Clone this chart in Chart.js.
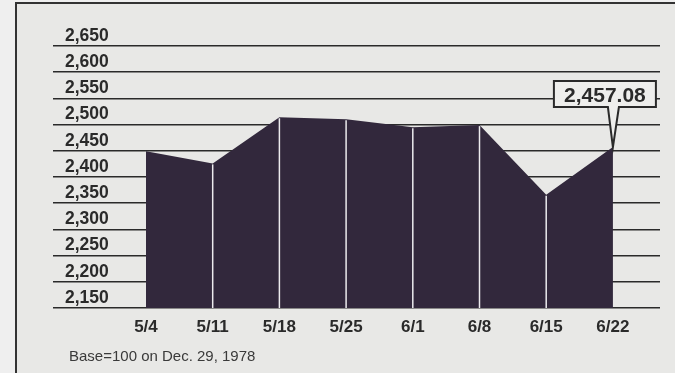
<!DOCTYPE html>
<html>
<head>
<meta charset="utf-8">
<script src="https://cdn.jsdelivr.net/npm/chart.js@4.4.1/dist/chart.umd.min.js"></script>
<style>
  html, body { margin: 0; padding: 0; background: #efefef; }
  #wrap { width: 675px; height: 373px; }
</style>
</head>
<body>
<div id="wrap"><canvas id="chart" width="675" height="373"></canvas></div>
<script>
// Weekly closing values
const weeks = ["5/4", "5/11", "5/18", "5/25", "6/1", "6/8", "6/15", "6/22"];
const closes = [2449, 2426, 2514, 2510, 2495, 2499, 2366, 2457.08];
const yTicks = [2150, 2200, 2250, 2300, 2350, 2400, 2450, 2500, 2550, 2600, 2650];
const footnote = "Base=100 on Dec. 29, 1978";

const FONT = "'Liberation Sans', Arial, sans-serif";
const INK = "#2a2a2a";
const AREA = "#32283c";

// Panel background and the left/top frame rule
const framePlugin = {
    id: "frame",
    beforeDraw(chart) {
        const ctx = chart.ctx;
        ctx.save();
        ctx.fillStyle = "#efefef";
        ctx.fillRect(0, 0, chart.width, chart.height);
        ctx.fillStyle = "#e8e8e6";
        ctx.fillRect(16, 3, chart.width - 16, chart.height - 3);
        ctx.strokeStyle = "#333";
        ctx.lineWidth = 2;
        ctx.beginPath();
        ctx.moveTo(16, chart.height);
        ctx.lineTo(16, 3);
        ctx.lineTo(chart.width, 3);
        ctx.stroke();
        ctx.restore();
    }
};

// Thin white rules dropping from each weekly point
const dividerPlugin = {
    id: "dividers",
    afterDatasetsDraw(chart) {
        const ctx = chart.ctx;
        const x = chart.scales.x, y = chart.scales.y;
        ctx.save();
        ctx.strokeStyle = "#ecebee";
        ctx.lineWidth = 1.5;
        for (let i = 1; i < closes.length - 1; i++) {
            const px = x.getPixelForValue(i);
            ctx.beginPath();
            ctx.moveTo(px, y.getPixelForValue(closes[i]) + 1);
            ctx.lineTo(px, chart.chartArea.bottom);
            ctx.stroke();
        }
        ctx.restore();
    }
};

// Callout with the latest value, plus the footnote
const calloutPlugin = {
    id: "callout",
    afterDraw(chart) {
        const ctx = chart.ctx;
        const last = closes.length - 1;
        const px = chart.scales.x.getPixelForValue(last);
        const py = chart.scales.y.getPixelForValue(closes[last]);
        const left = px - 59, right = px + 43, top = py - 66, bottom = py - 40;

        ctx.save();
        ctx.fillStyle = "#eeeeec";
        ctx.strokeStyle = INK;
        ctx.lineWidth = 2;
        ctx.lineJoin = "miter";
        ctx.beginPath();
        ctx.moveTo(left, top);
        ctx.lineTo(right, top);
        ctx.lineTo(right, bottom);
        ctx.lineTo(px + 6, bottom);
        ctx.lineTo(px, py);
        ctx.lineTo(px - 5, bottom);
        ctx.lineTo(left, bottom);
        ctx.closePath();
        ctx.fill();
        ctx.stroke();

        ctx.fillStyle = INK;
        ctx.font = "bold 21px " + FONT;
        ctx.textAlign = "center";
        ctx.textBaseline = "alphabetic";
        const label = closes[last].toLocaleString("en-US", { minimumFractionDigits: 2 });
        ctx.fillText(label, (left + right) / 2, bottom - 5);

        ctx.font = "15px " + FONT;
        ctx.fillStyle = "#3a3a3a";
        ctx.textAlign = "left";
        ctx.fillText(footnote, 69, 361);
        ctx.restore();
    }
};

new Chart(document.getElementById("chart"), {
    type: "line",
    data: {
        datasets: [{
            data: closes.map((v, i) => ({ x: i, y: v })),
            fill: "start",
            backgroundColor: AREA,
            borderWidth: 0,
            pointRadius: 0,
            tension: 0
        }]
    },
    options: {
        responsive: false,
        animation: false,
        layout: { padding: { left: 53, right: 15, top: 46, bottom: 20 } },
        plugins: {
            legend: { display: false },
            tooltip: { enabled: false }
        },
        scales: {
            x: {
                type: "linear",
                min: -1.394,
                max: 7.706,
                afterBuildTicks: axis => { axis.ticks = weeks.map((w, i) => ({ value: i })); },
                afterFit: axis => { axis.height = 45; },
                grid: { display: false },
                border: { display: false },
                ticks: {
                    padding: 1,
                    color: INK,
                    font: { family: FONT, size: 17, weight: "bold" },
                    callback: v => weeks[v]
                }
            },
            y: {
                min: yTicks[0],
                max: yTicks[yTicks.length - 1],
                afterBuildTicks: axis => { axis.ticks = yTicks.map(v => ({ value: v })); },
                afterFit: axis => { axis.width = 0; },
                grid: { color: INK, lineWidth: 1.5, drawTicks: false },
                border: { display: false },
                ticks: {
                    mirror: true,
                    crossAlign: "near",
                    padding: 12,
                    labelOffset: -10,
                    color: INK,
                    font: { family: FONT, size: 17.5, weight: "bold" },
                    callback: v => v.toLocaleString("en-US")
                }
            }
        }
    },
    plugins: [framePlugin, dividerPlugin, calloutPlugin]
});
</script>
</body>
</html>
